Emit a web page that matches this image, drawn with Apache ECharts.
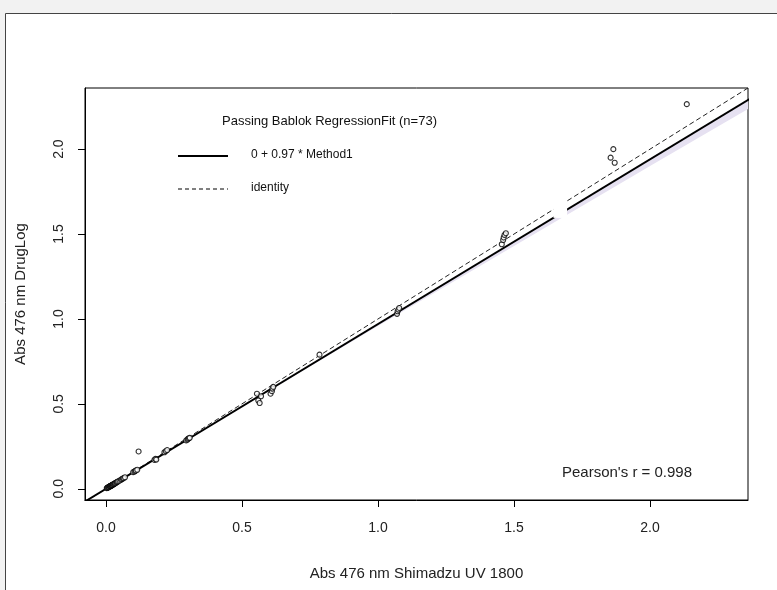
<!DOCTYPE html>
<html>
<head>
<meta charset="utf-8">
<script src="https://cdn.jsdelivr.net/npm/echarts@6/dist/echarts.min.js"></script>
<style>
html,body{margin:0;padding:0;background:#f2f2f2;}
#chart{width:777px;height:590px;}
</style>
</head>
<body>
<div id="chart"></div>
<script>
// measured pairs (Shimadzu x, DrugLog y)
var xValues = [0.003,0.005,0.006,0.008,0.010,0.011,0.012,0.014,0.015,0.016,0.017,0.018,0.020,0.021,0.022,0.023,0.024,0.026,0.027,0.028,
	0.030,0.032,0.033,0.035,0.038,0.040,0.042,0.045,0.050,0.055,0.058,0.062,0.065,0.070,
	0.100,0.105,0.108,0.110,0.115,0.120,
	0.178,0.182,0.185,0.215,0.220,0.225,
	0.295,0.300,0.302,0.305,0.308,
	0.555,0.560,0.565,0.570,0.605,0.610,0.612,0.615,0.785,
	1.070,1.072,1.075,1.078,
	1.455,1.460,1.462,1.465,1.470,
	1.855,1.865,1.870,2.135];
var yValues = [0.004,0.005,0.006,0.009,0.010,0.012,0.011,0.014,0.016,0.015,0.016,0.018,0.019,0.021,0.021,0.022,0.024,0.025,0.026,0.027,
	0.029,0.031,0.032,0.033,0.037,0.039,0.041,0.044,0.048,0.053,0.057,0.060,0.063,0.068,
	0.098,0.102,0.106,0.108,0.112,0.220,
	0.170,0.176,0.172,0.215,0.222,0.228,
	0.285,0.290,0.295,0.298,0.300,
	0.560,0.520,0.505,0.545,0.560,0.575,0.590,0.600,0.790,
	1.030,1.045,1.055,1.065,
	1.440,1.465,1.480,1.495,1.505,
	1.950,2.000,1.920,2.265];

var lineX = [-0.1, 2.4];
var fitY = [-0.097, 2.328];       // 0 + 0.97 * Method1
var identityY = [-0.1, 2.4];

// confidence band of the fit
var bandX = [-0.1, 0.5, 1.0, 1.5, 2.0, 2.4];
var bandLow = [-0.098, 0.483, 0.958, 1.430, 1.900, 2.273];
var bandHigh = [-0.096, 0.487, 0.972, 1.458, 1.945, 2.330];

var tickValues = [0, 0.5, 1, 1.5, 2];
var tickLabels = ["0.0", "0.5", "1.0", "1.5", "2.0"];

var points = [];
for(var i = 0; i < xValues.length; i++){
	points.push([xValues[i], yValues[i]]);
}
function pairs(xs, ys){
	var out = [];
	for(var i = 0; i < xs.length; i++){
		out.push([xs[i], ys[i]]);
	}
	return out;
}
var bandPoly = [];
for(var i = 0; i < bandX.length; i++){ bandPoly.push([bandX[i], bandHigh[i]]); }
for(var i = bandX.length - 1; i >= 0; i--){ bandPoly.push([bandX[i], bandLow[i]]); }

var fontName = "Liberation Sans";
function fmt(v){
	var k = tickValues.indexOf(Math.round(v * 100) / 100);
	return k >= 0 ? tickLabels[k] : "";
}

var myChart = echarts.init(document.getElementById('chart'));
var option = {
	backgroundColor: "#f2f2f2",
	animation: false,
	textStyle: {fontFamily: fontName},
	graphic: [
		{type: "rect", z: -10, shape: {x: 5.5, y: 13.5, width: 800, height: 600},
			style: {fill: "#ffffff", stroke: "#444444", lineWidth: 1}},
		{type: "text", left: 222, top: 115, style: {text: "Passing Bablok RegressionFit (n=73)", fontSize: 13, fontFamily: fontName, fill: "#111"}},
		{type: "line", shape: {x1: 178, y1: 156, x2: 228, y2: 156}, style: {stroke: "#000", lineWidth: 2}},
		{type: "text", left: 251, top: 149, style: {text: "0 + 0.97 * Method1", fontSize: 12, fontFamily: fontName, fill: "#111"}},
		{type: "line", shape: {x1: 178, y1: 189, x2: 228, y2: 189}, style: {stroke: "#000", lineWidth: 1, lineDash: [4, 3]}},
		{type: "text", left: 251, top: 182, style: {text: "identity", fontSize: 12, fontFamily: fontName, fill: "#111"}},
		{type: "text", left: 562, top: 465, style: {text: "Pearson's r = 0.998", fontSize: 15, fontFamily: fontName, fill: "#222"}}
	],
	grid: {left: 85, top: 88, right: 29, bottom: 90, show: true, borderColor: "#000", borderWidth: 1, backgroundColor: "transparent"},
	xAxis: {
		type: "value", min: -0.077, max: 2.36,
		name: "Abs 476 nm Shimadzu UV 1800", nameLocation: "middle", nameGap: 66,
		nameTextStyle: {fontSize: 15, color: "#222", fontFamily: fontName},
		splitLine: {show: false},
		axisLine: {show: true, onZero: false, lineStyle: {color: "#000"}},
		axisTick: {show: true, length: 7, customValues: tickValues, lineStyle: {color: "#000"}},
		axisLabel: {customValues: tickValues, formatter: fmt, margin: 21, fontSize: 14, color: "#222", fontFamily: fontName}
	},
	yAxis: {
		type: "value", min: -0.066, max: 2.36,
		name: "Abs 476 nm DrugLog", nameLocation: "middle", nameGap: 57,
		nameTextStyle: {fontSize: 15, color: "#222", fontFamily: fontName},
		splitLine: {show: false},
		axisLine: {show: true, onZero: false, lineStyle: {color: "#000"}},
		axisTick: {show: true, length: 7, customValues: tickValues, lineStyle: {color: "#000"}},
		axisLabel: {customValues: tickValues, formatter: fmt, rotate: 90, margin: 19, fontSize: 14, color: "#222", fontFamily: fontName}
	},
	series: [
		{
			type: "custom", z: 1, silent: true, clip: true,
			renderItem: function(params, api){
				var pts = [];
				for(var i = 0; i < bandPoly.length; i++){
					pts.push(api.coord(bandPoly[i]));
				}
				return {type: "polygon", shape: {points: pts}, style: {fill: "#e6e1f1"}};
			},
			data: [[0, 0]]
		},
		{
			type: "line", z: 3, data: pairs(lineX, identityY), symbol: "none", clip: true,
			lineStyle: {color: "#222", width: 1, type: [5, 3]}
		},
		{
			type: "line", z: 4, data: pairs(lineX, fitY), symbol: "none", clip: true,
			lineStyle: {color: "#000", width: 2}
		},
		{
			type: "scatter", z: 5, data: points, symbol: "circle", symbolSize: 5,
			itemStyle: {color: "#fff", borderColor: "#000", borderWidth: 1.1}
		},
		{
			type: "custom", z: 6, silent: true, clip: true,
			renderItem: function(params, api){
				var a = api.coord([1.645, 1.735]);
				var b = api.coord([1.695, 1.595]);
				return {type: "rect", shape: {x: a[0], y: a[1], width: b[0] - a[0], height: b[1] - a[1]}, style: {fill: "#fff"}};
			},
			data: [[0, 0]]
		}
	]
};
myChart.setOption(option);
</script>
</body>
</html>
